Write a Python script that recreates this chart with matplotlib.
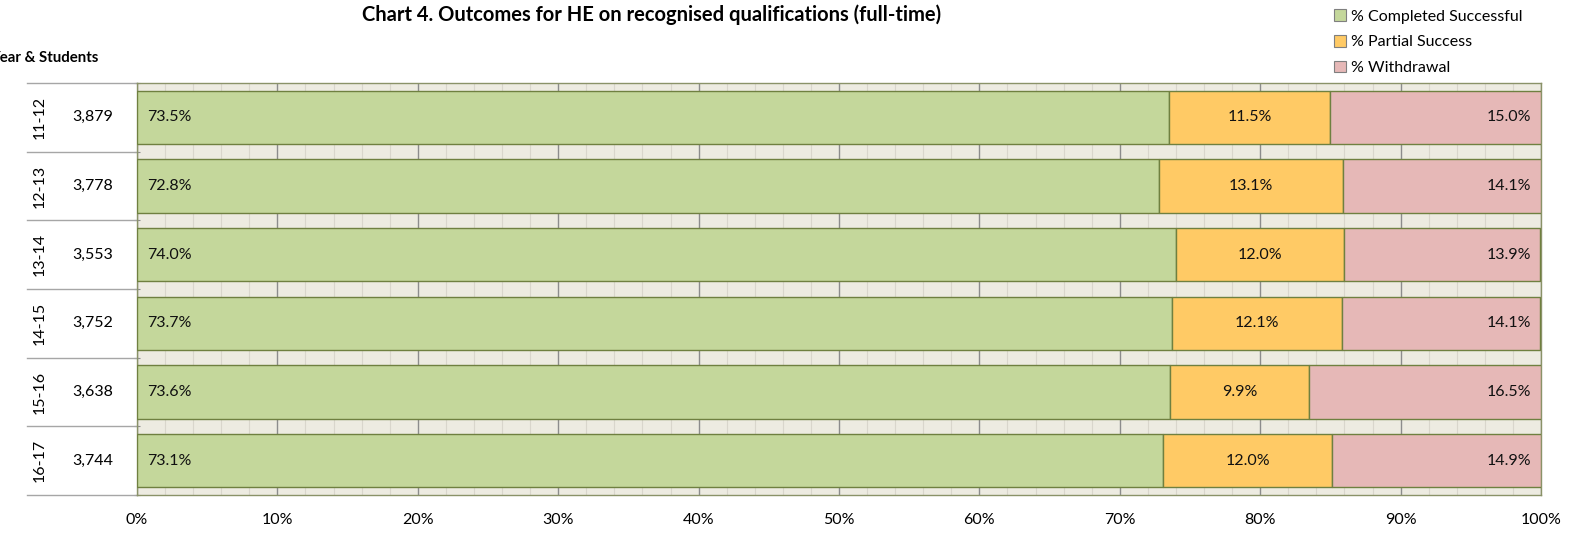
import matplotlib
matplotlib.use("Agg")
import matplotlib.pyplot as plt
from matplotlib.patches import Patch
from matplotlib.ticker import MultipleLocator, FuncFormatter

plt.rcParams['font.family'] = ['Lato', 'DejaVu Sans']

years = ["11-12", "12-13", "13-14", "14-15", "15-16", "16-17"]
students = ["3,879", "3,778", "3,553", "3,752", "3,638", "3,744"]
completed = [73.5, 72.8, 74.0, 73.7, 73.6, 73.1]
partial = [11.5, 13.1, 12.0, 12.1, 9.9, 12.0]
withdrawal = [15.0, 14.1, 13.9, 14.1, 16.5, 14.9]
series_names = ["% Completed Successful", "% Partial Success", "% Withdrawal"]
colors = ["#C4D79B", "#FFCA65", "#E6B8B7"]
edge = "#6F8040"

W, H = 1592, 536
fig = plt.figure(figsize=(W / 100, H / 100), dpi=100)
L, R, T, B = 137, 1541, 83, 495
ax = fig.add_axes([L / W, 1 - B / H, (R - L) / W, (B - T) / H])
ax.set_facecolor("#EDEBE1")

n = len(years)
ys = list(range(n))
bh = 0.78
left2 = completed
left3 = [c + p for c, p in zip(completed, partial)]
ax.barh(ys, completed, height=bh, color=colors[0], edgecolor=edge, linewidth=1, zorder=3)
ax.barh(ys, partial, left=left2, height=bh, color=colors[1], edgecolor=edge, linewidth=1, zorder=3)
ax.barh(ys, withdrawal, left=left3, height=bh, color=colors[2], edgecolor=edge, linewidth=1, zorder=3)

fs = 11.5
for i in ys:
    ax.text(0.75, i, f"{completed[i]:.1f}%", ha="left", va="center", fontsize=fs, zorder=4, color="#111111")
    ax.text(left2[i] + partial[i] / 2, i, f"{partial[i]:.1f}%", ha="center", va="center", fontsize=fs, zorder=4, color="#111111")
    ax.text(99.3, i, f"{withdrawal[i]:.1f}%", ha="right", va="center", fontsize=fs, zorder=4, color="#111111")

ax.set_xlim(0, 100)
ax.set_ylim(n - 0.5, -0.5)
ax.xaxis.set_major_locator(MultipleLocator(10))
ax.xaxis.set_minor_locator(MultipleLocator(2))
ax.xaxis.set_major_formatter(FuncFormatter(lambda v, p: f"{v:.0f}%"))
ax.grid(which="major", axis="x", color="#8C8C8C", linewidth=1, zorder=1)
ax.grid(which="minor", axis="x", color="#D9D6CC", linewidth=0.8, zorder=1)
ax.tick_params(axis="x", which="both", length=0, labelsize=fs, pad=13)
ax.set_yticks([i - 0.5 for i in range(n + 1)])
ax.set_yticklabels([])
ax.tick_params(axis="y", length=5, color="#8C8C8C", direction="inout")
for s in ax.spines.values():
    s.set_color("#8A9268")
    s.set_linewidth(1)

# table to the left of the plot area
tr = ax.get_yaxis_transform()
x_line0 = (27 - L) / (R - L)
for i in range(n + 1):
    ax.plot([x_line0, 0], [i - 0.5, i - 0.5], transform=tr, color="#A6A6A6",
            linewidth=1, clip_on=False, zorder=2)
for i in ys:
    ax.text((40 - L) / (R - L), i, years[i], rotation=90, ha="center", va="center",
            fontsize=fs, transform=tr)
    ax.text((93 - L) / (R - L), i, students[i], ha="center", va="center",
            fontsize=fs, transform=tr)

fig.text(-10 / W, 1 - 58 / H, "Year & Students", fontsize=10.8, fontweight="bold",
         ha="left", va="center")
fig.text(652 / W, 1 - 15 / H, "Chart 4. Outcomes for HE on recognised qualifications (full-time)",
         fontsize=14.5, fontweight="bold", ha="center", va="center")

handles = [Patch(facecolor=c, edgecolor="#7F7F7F", linewidth=0.8) for c in colors]
fig.legend(handles, series_names, loc="upper left", bbox_to_anchor=(1328 / W, 1 - 3 / H),
           frameon=False, fontsize=fs, handlelength=0.75, handleheight=0.75,
           handletextpad=0.3, labelspacing=0.7, borderaxespad=0)

fig.savefig("out.png", dpi=100)
